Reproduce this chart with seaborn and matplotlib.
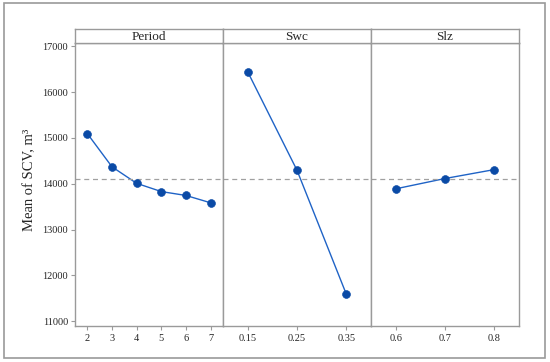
import pandas as pd
import matplotlib.pyplot as plt
import matplotlib.patches as mpatches
import seaborn as sns

# Main effects data
period_levels = ['2', '3', '4', '5', '6', '7']
period_means = [15095, 14370, 14010, 13830, 13745, 13585]
swc_levels = ['0.15', '0.25', '0.35']
swc_means = [16445, 14295, 11590]
slz_levels = ['0.6', '0.7', '0.8']
slz_means = [13890, 14115, 14310]
grand_mean = 14110

factors = [('Period', period_levels, period_means),
           ('Swc', swc_levels, swc_means),
           ('Slz', slz_levels, slz_means)]

sns.set_theme(style='white')
plt.rcParams['font.family'] = ['Liberation Serif', 'DejaVu Serif']

W, H = 550, 362
fig = plt.figure(figsize=(W / 100, H / 100), dpi=100)

frame_col = '#9a9a9a'
line_col = '#1f63c6'
mark_col = '#0a4aa6'

# outer border
fig.patches.append(mpatches.Rectangle((4 / W, 4 / H), 541 / W, 355 / H,
                                      transform=fig.transFigure, fill=False,
                                      edgecolor=frame_col, linewidth=1.2))

left, right, top, strip_bot, bottom = 75, 519, 29, 43, 326
pw = (right - left) / 3

for i, (name, levels, means) in enumerate(factors):
    x0 = left + i * pw
    ax = fig.add_axes([x0 / W, (H - bottom) / H, pw / W, (bottom - strip_bot) / H])
    df = pd.DataFrame({'level': levels, 'mean': means})
    sns.lineplot(data=df, x='level', y='mean', ax=ax, color=line_col,
                 linewidth=1.0, sort=False)
    sns.scatterplot(data=df, x='level', y='mean', ax=ax, color=mark_col,
                    s=32, edgecolor=mark_col, zorder=3)
    ax.axhline(grand_mean, color='#a0a0a0', linestyle=(0, (4, 3)), linewidth=0.9)
    ax.set_xlim(-0.5, len(levels) - 0.5)
    ax.set_ylim(10897, 17072)
    ax.set_xlabel('')
    ax.set_ylabel('')
    for sp in ax.spines.values():
        sp.set_color(frame_col)
        sp.set_linewidth(1.0)
    ax.tick_params(axis='x', direction='out', length=3, width=0.8,
                   color=frame_col, labelsize=7.5, pad=3, bottom=True)
    if i == 0:
        ax.set_yticks([11000, 12000, 13000, 14000, 15000, 16000, 17000])
        ax.tick_params(axis='y', direction='out', length=3, width=0.8,
                       color=frame_col, labelsize=7.5, pad=2, left=True)
    else:
        ax.set_yticks([])

    # strip header
    sax = fig.add_axes([x0 / W, (H - strip_bot) / H, pw / W, (strip_bot - top) / H])
    sax.set_xticks([])
    sax.set_yticks([])
    for sp in sax.spines.values():
        sp.set_color(frame_col)
        sp.set_linewidth(1.0)
    sax.text(0.5, 0.45, name, ha='center', va='center', fontsize=9.5,
             transform=sax.transAxes)

fig.text(30 / W, (H - 180) / H, 'Mean of SCV, m³', rotation=90,
         ha='center', va='center', fontsize=10.5)

fig.savefig('out.png', dpi=100)
